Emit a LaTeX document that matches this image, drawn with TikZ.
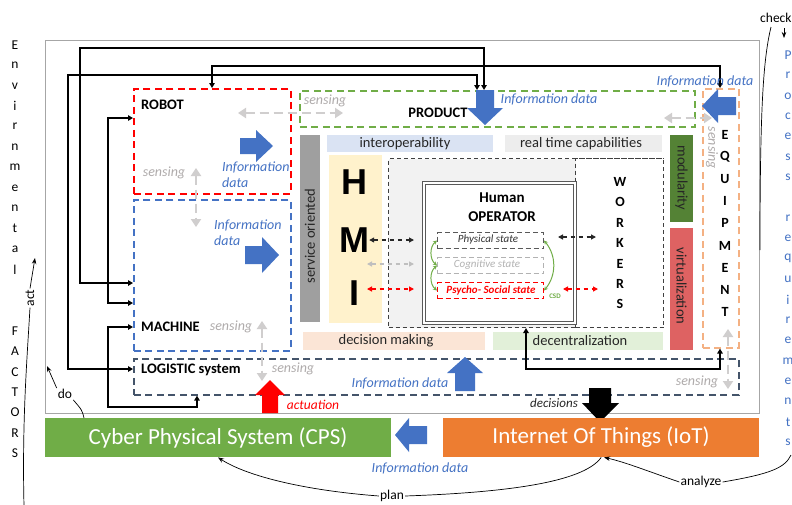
\documentclass[tikz,border=0pt]{standalone}
\usepackage{fontspec}
\setmainfont{Carlito}
\newfontfamily\hmifont{Liberation Sans}
\usetikzlibrary{arrows.meta,calc}

\definecolor{infoblue}{RGB}{68,114,196}
\definecolor{senseg}{RGB}{175,171,171}
\definecolor{arrowg}{RGB}{208,206,206}
\definecolor{pgreen}{RGB}{112,173,71}
\definecolor{slate}{RGB}{68,84,106}
\definecolor{peach}{RGB}{244,177,131}
\definecolor{iotorange}{RGB}{237,125,49}
\definecolor{interblue}{RGB}{218,227,243}
\definecolor{rtgrey}{RGB}{237,237,237}
\definecolor{modgreen}{RGB}{84,130,53}
\definecolor{virtred}{RGB}{222,98,98}
\definecolor{hmiyellow}{RGB}{255,242,204}
\definecolor{opgrey}{RGB}{242,242,242}
\definecolor{dmpeach}{RGB}{251,229,214}
\definecolor{decgreen}{RGB}{226,240,217}

\tikzset{
  lbl/.style={font=\fontsize{14.5}{19}\selectfont\bfseries, inner sep=0pt},
  info/.style={font=\fontsize{14}{16}\selectfont\itshape, text=infoblue, inner sep=0pt},
  sense/.style={font=\fontsize{14}{16}\selectfont\itshape, text=senseg, inner sep=0pt},
  bartext/.style={font=\fontsize{14.5}{17}\selectfont, inner sep=0pt, text=black!85},
  plain/.style={font=\fontsize{13.5}{16}\selectfont, inner sep=1pt},
  letter/.style={font=\fontsize{13.5}{15}\selectfont, inner sep=0pt},
  bletter/.style={font=\fontsize{14}{15}\selectfont\bfseries, inner sep=0pt},
  zone/.style={line width=1.6pt, dash pattern=on 7pt off 4.5pt, anchor=north west, inner sep=0pt},
  bar/.style={anchor=north west, inner sep=0pt},
  conn/.style={line width=1.5pt, {Triangle[length=5pt,width=5.5pt]}-{Triangle[length=5pt,width=5.5pt]}},
  flowg/.style={draw=arrowg, line width=2.6pt, dash pattern=on 9pt off 5pt,
    {Triangle[length=8pt,width=10pt]}-{Triangle[length=8pt,width=10pt]}},
  hmiarrow/.style={line width=1.2pt, dash pattern=on 4pt off 4pt,
    {Triangle[length=5pt,width=5pt]}-{Triangle[length=5pt,width=5pt]}},
  statebox/.style={anchor=north west, inner sep=0pt, line width=1pt, dash pattern=on 5pt off 3pt,
    minimum width=106, minimum height=16},
  statetext/.style={font=\fontsize{11}{12}\selectfont\itshape, inner sep=0pt},
  csdarc/.style={draw=pgreen, line width=1pt, {Stealth[length=4pt,width=4pt]}-{Stealth[length=4pt,width=4pt]}},
  thinarc/.style={line width=0.7pt},
  tip/.style={-{Stealth[length=6pt,width=4.5pt]}},
}

\begin{document}
\begin{tikzpicture}[x=1pt,y=-1pt]
\useasboundingbox (0,0) rectangle (792,504);
\fill[white] (0,0) rectangle (792,504);

% outer frame of the production environment
\node[draw=gray!70, line width=1.2pt, anchor=north west, inner sep=0pt,
      minimum width=714, minimum height=373] (frame) at (45,40) {};

% ---------- inner capability bars ----------
\node[bar, fill=gray!75, minimum width=20, minimum height=187] (svcbar) at (300,135) {};
\node[bartext, rotate=90] (svctext) at (310,236) {service oriented};
\node[bar, fill=interblue, minimum width=166, minimum height=17] (interbar) at (327,135) {};
\node[bartext] (intertext) at (405,143.5) {interoperability};
\node[bar, fill=rtgrey, minimum width=157, minimum height=17] (rtbar) at (505,135) {};
\node[bartext] (rttext) at (581,143.5) {real time capabilities};
\node[bar, fill=modgreen, minimum width=23, minimum height=87] (modbar) at (670,135) {};
\node[bartext, rotate=-90] (modtext) at (681.5,178) {modularity};
\node[bar, fill=virtred, minimum width=23, minimum height=122] (virtbar) at (670,228) {};
\node[bartext, rotate=-90] (virttext) at (681.5,286) {virtualization};
\node[bar, fill=dmpeach, minimum width=182, minimum height=18] (dmbar) at (303,332) {};
\node[bartext] (dmtext) at (386,341) {decision making};
\node[bar, fill=decgreen, minimum width=170, minimum height=18] (decbar) at (493,332) {};
\node[bartext] (dectext) at (580,341) {decentralization};

% ---------- HMI ----------
\node[bar, fill=hmiyellow, minimum width=53, minimum height=168] (hmibar) at (329,155) {};
\node[font=\hmifont\fontsize{36}{36}\selectfont\bfseries, inner sep=0pt] (hmiH) at (354,182) {H};
\node[font=\hmifont\fontsize{36}{36}\selectfont\bfseries, inner sep=0pt] (hmiM) at (354,240) {M};
\node[font=\hmifont\fontsize{36}{36}\selectfont\bfseries, inner sep=0pt] (hmiI) at (354,293) {I};

% ---------- operator area and workers ----------
\node[bar, fill=opgrey, draw=black!75, line width=1pt, dash pattern=on 4pt off 3pt,
      minimum width=275, minimum height=169] (opzone) at (388,158) {};
\node[bar, fill=white, draw=black!75, line width=1pt, dash pattern=on 4pt off 3pt,
      minimum width=88, minimum height=169] (workers) at (575,158) {};
\foreach \c [count=\i from 0] in {W,O,R,K,E,R,S}
  \node[bletter] (wk\i) at (620,182+20.4*\i) {\c};
\node[bar, fill=white, draw=black!65, line width=1.2pt, double=white, double distance=1.8pt,
      minimum width=151, minimum height=140] (operator) at (423,182) {};
\node[lbl, align=center, font=\fontsize{15}{19}\selectfont\bfseries] (optitle) at (502,207) {Human\\OPERATOR};

\node[statebox, draw=black!65] (phys) at (437,232) {};
\node[statetext, text=black!80] (physt) at (488,240) {Physical state};
\node[statebox, draw=black!30] (cogn) at (437,257) {};
\node[statetext, text=black!30] (cognt) at (487,265) {Cognitive state};
\node[statebox, draw=red] (psych) at (437,282) {};
\node[statetext, text=red, font=\fontsize{11}{12}\selectfont\bfseries\itshape] (psycht) at (491,290) {Psycho- Social state};
\draw[csdarc] (phys.west) to[bend right=50] (cogn.west);
\draw[csdarc] (cogn.west) to[bend right=50] (psych.west);
\draw[csdarc] (phys.east) to[bend left=40] (psych.east);
\node[font=\fontsize{7}{8}\selectfont\bfseries, text=pgreen, inner sep=0pt] (csd) at (555,296) {CSD};

% HMI <-> operator, operator <-> workers
\coordinate (hmiA) at (414,240);
\coordinate (hmiB) at (367,264);
\coordinate (hmiC) at (414,264);
\coordinate (hmiD) at (367,289);
\coordinate (hmiE) at (414,289);
\draw[hmiarrow, draw=black!85] (hmiM.east) -- (hmiA);
\draw[hmiarrow, draw=black!25] (hmiB) -- (hmiC);
\draw[hmiarrow, draw=red] (hmiD) -- (hmiE);
\coordinate (owA) at (558,237);
\coordinate (owB) at (596,237);
\coordinate (owC) at (563,289);
\coordinate (owD) at (598,289);
\draw[hmiarrow, draw=black!85] (owA) -- (owB);
\draw[hmiarrow, draw=red] (owC) -- (owD);

% ---------- dashed physical zones ----------
\node[zone, draw=red, minimum width=157, minimum height=105] (robot) at (133,88) {};
\node[zone, draw=infoblue, minimum width=157, minimum height=151] (machine) at (133,199) {};
\node[zone, draw=slate, minimum width=605, minimum height=36] (logistic) at (133,358) {};
\node[zone, draw=pgreen, minimum width=395, minimum height=36] (product) at (299,90) {};
\node[zone, draw=peach, minimum width=36, minimum height=259] (equip) at (702,88) {};

\node[lbl, anchor=west] (robotlbl) at (141,105) {ROBOT};
\node[lbl, anchor=west] (machinelbl) at (141,327) {MACHINE};
\node[lbl, anchor=west] (logisticlbl) at (141,370) {LOGISTIC system};
\node[lbl] (productlbl) at (438,113) {PRODUCT};
\foreach \c [count=\i from 0] in {E,Q,U,I,P,M,E,N,T}
  \node[bletter] (eq\i) at (725,135+22.1*\i) {\c};

% ---------- grey sensing flows ----------
\draw[flowg] (238,113) -- (343,113);
\draw[flowg] (664,118) -- (712,118);
\draw[flowg] (196,168) -- (196,227);
\draw[flowg] (262,321) -- (262,381);
\draw[flowg] (728,329) -- (728,389);
\node[sense] (s1) at (325,101) {sensing};
\node[sense] (s2) at (164,173) {sensing};
\node[sense] (s3) at (231,327) {sensing};
\node[sense] (s4) at (293,369) {sensing};
\node[sense] (s5) at (697,382) {sensing};
\node[sense, rotate=-90] (s6) at (712,148) {sensing};

% ---------- black links between zones ----------
\draw[conn] (machine.west |- 0,283) -| (80,48) -| (product.north -| 484,0);
\draw[conn] (logistic.west |- 0,369) -| (68,75) -| (product.north -| 477,0);
\draw[conn] (robot.north -| 212,0) |- (720,66) -- (equip.north -| 720,0);
\draw[conn] (robot.west |- 0,118) -| (108,303) -- (machine.west |- 0,303);
\draw[conn] (machine.west |- 0,327) -| (108,407) -| (logistic.south -| 197,0);
\draw[conn] (opzone.south -| 526,0) |- (720,369) -- (equip.south -| 720,0);

% ---------- block arrows ----------
% robot -> right
\fill[infoblue] (240,138) -- (256,138) -- (256,130) -- (273,146) -- (256,162) -- (256,154) -- (240,154) -- cycle;
% machine -> right
\fill[infoblue] (245,246) -- (262,246) -- (262,237) -- (279,255) -- (262,273) -- (262,264) -- (245,264) -- cycle;
% into product
\fill[infoblue] (476,90) -- (494,90) -- (494,108) -- (503,108) -- (485,125) -- (467,108) -- (476,108) -- cycle;
% from equipment
\fill[infoblue] (736,97) -- (718,97) -- (718,89) -- (702,106) -- (718,123) -- (718,115) -- (736,115) -- cycle;
% up from logistic
\fill[infoblue] (455,391) -- (455,373) -- (447,373) -- (465,357) -- (483,373) -- (475,373) -- (475,391) -- cycle;
% actuation
\fill[red] (262,413) -- (262,395) -- (255,395) -- (270,380) -- (285,395) -- (278,395) -- (278,413) -- cycle;
% decisions
\fill[black] (589,388) -- (611,388) -- (611,403) -- (619,403) -- (600,422) -- (582,403) -- (589,403) -- cycle;

\node[info] (i1) at (549,99) {Information data};
\node[info] (i2) at (705,81) {Information data};
\node[info, align=left, anchor=west] (i3) at (222,175) {Information\\data};
\node[info, align=left, anchor=west] (i4) at (214,233) {Information\\data};
\node[info] (i5) at (400,383) {Information data};
\node[font=\fontsize{13.5}{16}\selectfont\itshape, text=red, inner sep=0pt] (act1) at (313,405) {actuation};
\node[font=\fontsize{13}{16}\selectfont\itshape, text=black!85, inner sep=0pt] (dec1) at (554,403) {decisions};

% ---------- CPS and IoT ----------
\node[bar, fill=pgreen, minimum width=346, minimum height=39] (cps) at (45,418) {};
\node[font=\fontsize{23}{26}\selectfont, text=white, inner sep=0pt] (cpstext) at (218,437.5) {Cyber Physical System (CPS)};
\node[bar, fill=iotorange, minimum width=316, minimum height=39] (iot) at (443,418) {};
\node[font=\fontsize{23}{26}\selectfont, text=white, inner sep=0pt] (iottext) at (601,437.5) {Internet Of Things (IoT)};
\fill[infoblue] (427,426) -- (409,426) -- (409,418) -- (395,435) -- (409,452) -- (409,444) -- (427,444) -- cycle;
\node[info] (i6) at (420,468) {Information data};

% ---------- surrounding cycle: plan, do, act, check, analyze ----------
\node[plain] (plan) at (392,496) {plan};
\node[plain] (analyze) at (701,482) {analyze};
\node[plain] (do) at (65,394) {do};
\node[plain, rotate=90] (act) at (30,298) {act};
\node[plain, anchor=west] (check) at (759,18) {check};

\draw[thinarc] (iot.south) .. controls (585,480) and (520,492) .. (plan.east);
\draw[thinarc, tip] (plan.west) .. controls (300,490) and (245,475) .. (cps.south -| 218,0);
\draw[thinarc, tip] (analyze.west) .. controls (650,472) and (625,462) .. (iot.south -| 604,0);
\draw[thinarc] (analyze.east) .. controls (770,474) and (785,468) .. (791,455);
\draw[thinarc] (771,27) .. controls (763,60) and (760,110) .. (760,250);
\coordinate (chk) at (784,38);
\draw[thinarc, tip] (784,28) -- (chk);
\coordinate (doin) at (47,366);
\draw[thinarc] (cps.north -| 84,0) .. controls (82,410) .. (do.south east);
\draw[thinarc, tip] (do.north west) -- (doin);
\coordinate (actup) at (35,258);
\draw[thinarc, tip] (act.east) -- (actup);
\draw[thinarc] (24,506) .. controls (22,420) and (27,360) .. (act.west);

% ---------- letter columns ----------
\foreach \c [count=\i from 0] in {E,n,v,i,r,n,m,e,n,t,a,l}
  \node[letter] (env\i) at (15,45+20.4*\i) {\c};
\foreach \c [count=\i from 0] in {F,A,C,T,O,R,S}
  \node[letter] (fac\i) at (15,331+20.4*\i) {\c};
\foreach \c [count=\i from 0] in {P,r,o,c,e,s,s}
  \node[letter, text=infoblue] (pr\i) at (788,55+20.4*\i) {\c};
\foreach \c [count=\i from 0] in {r,e,q,u,i,r,e,m,e,n,t,s}
  \node[letter, text=infoblue] (rq\i) at (788,218+20.4*\i) {\c};
\end{tikzpicture}
\end{document}
